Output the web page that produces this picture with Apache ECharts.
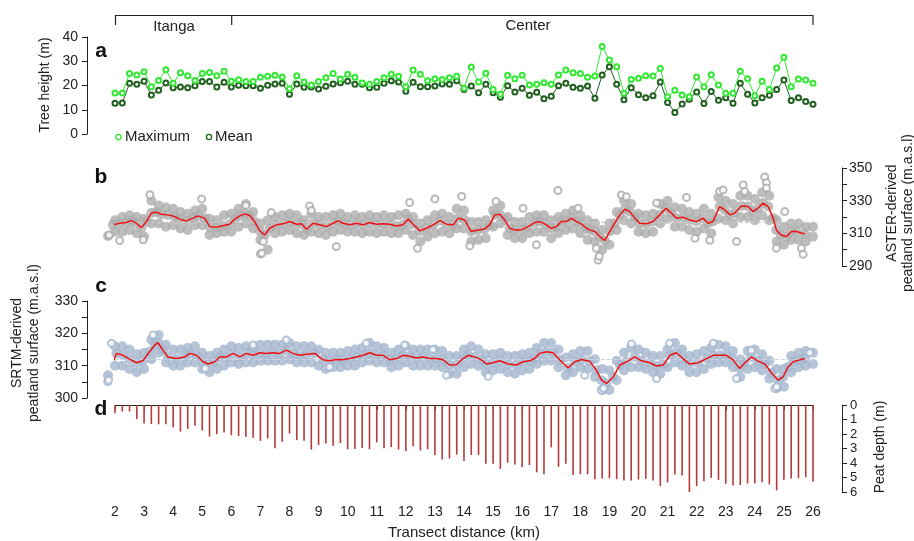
<!DOCTYPE html>
<html>
<head>
<meta charset="utf-8" />
<title>Transect</title>
<style>
  html, body, #chart { width: 914px; height: 541px; margin: 0; overflow: hidden; background: #fff; }
</style>
</head>
<body>
<div id="chart"></div>
<script src="https://cdn.jsdelivr.net/npm/echarts@6/dist/echarts.min.js"></script>
<script>
// sample positions along the transect (km)
var dist = [2,2.25,2.5,2.75,3,3.25,3.5,3.75,4,4.25,4.5,4.75,5,5.25,5.5,5.75,6,6.25,6.5,6.75,7,7.25,7.5,7.75,8,8.25,8.5,8.75,9,9.25,9.5,9.75,10,10.25,10.5,10.75,11,11.25,11.5,11.75,12,12.25,12.5,12.75,13,13.25,13.5,13.75,14,14.25,14.5,14.75,15,15.25,15.5,15.75,16,16.25,16.5,16.75,17,17.25,17.5,17.75,18,18.25,18.5,18.75,19,19.25,19.5,19.75,20,20.25,20.5,20.75,21,21.25,21.5,21.75,22,22.25,22.5,22.75,23,23.25,23.5,23.75,24,24.25,24.5,24.75,25,25.25,25.5,25.75,26];

// a: tree height (m)
var treeMax = [16.9,16.9,25.0,24.3,25.7,19.5,22.1,26.5,20.9,25.3,24.0,22.1,25.0,25.4,24.0,25.9,21.8,22.4,21.6,21.6,23.4,23.8,24.2,23.5,18.7,24.0,21.4,20.2,21.7,23.2,25.0,22.7,24.6,23.4,21.0,20.5,21.7,23.2,24.6,23.8,19.5,26.4,24.6,22.0,22.8,22.5,23.2,23.8,18.9,27.6,21.4,25.1,18.4,16.4,24.2,22.8,24.2,20.2,20.5,21.1,20.5,24.3,26.4,25.3,25.0,23.4,23.9,36.1,30.5,27.7,16.8,22.5,23.0,24.0,23.9,27.0,15.4,18.0,16.1,15.4,23.5,19.5,24.4,20.2,16.8,16.8,25.9,22.8,15.8,21.8,18.4,27.2,31.6,19.5,22.7,22.3,20.9];
var treeMean = [12.7,12.8,20.9,20.5,21.8,16.1,18.0,21.0,19.1,19.4,19.1,19.9,21.7,21.7,19.4,21.3,19.4,20.1,19.9,19.9,18.9,20.1,20.6,20.9,16.4,20.6,19.3,19.4,18.6,19.7,20.6,21.1,21.8,20.5,20.5,19.1,19.3,20.9,22.0,21.4,17.6,21.3,19.5,19.5,19.8,20.6,20.5,22.0,18.4,19.8,17.0,20.5,17.0,15.2,19.9,17.3,18.9,16.0,17.2,14.5,15.6,19.9,20.9,19.3,18.9,19.8,14.7,24.3,27.7,20.5,14.1,19.1,16.2,14.9,15.8,21.4,13.0,8.9,12.4,14.3,17.3,12.6,17.5,13.9,14.9,12.7,20.9,16.4,12.8,14.9,16.0,18.3,22.3,13.8,14.9,13.4,12.3];

// b: ASTER surface (m a.s.l.)
var bUpper = [318,320,321,320, 319,330,327,326, 325,323,322,324, 325,319,318,321, 322,325,328,323, 316,318,320,321, 322,321,318,322, 320,320,321,322, 320,321,320,321, 320,321,320,321, 322,320,316,318, 321,322,320,325, 324,317,317,318, 324,327,320,317, 317,320,321,321, 318,320,322,324, 321,318,316,312, 316,323,330,328, 322,321,322,328, 330,326,325,323, 322,325,322,332, 330,328,333,333, 331,335,333,318, 314,316,316,314, 314];
var bLower = [311,311,312,310, 308,316,316,314, 315,313,312,315, 315,309,310,311, 311,314,316,313, 306,300,310,311, 312,310,309,311, 310,309,311,312, 311,311,310,311, 310,311,310,310, 312,309,305,308, 310,311,310,313, 313,305,306,307, 314,316,309,307, 307,310,311,311, 307,310,312,313, 310,306,305,300, 303,312,318,316, 311,310,311,316, 319,314,314,312, 311,313,310,319, 318,316,320,320, 318,321,318,305, 303,306,306,305, 308];
var bRed = [[1.76,308.4],[1.93,315.2],[2.16,316.2],[2.39,316.6],[2.56,317.8],[2.73,316.2],[2.91,313.5],[3.08,317.2],[3.25,322.4],[3.42,323.0],[3.59,321.7],[3.82,321.3],[4.05,320.3],[4.22,318.7],[4.45,317.6],[4.68,319.3],[4.85,320.7],[5.08,319.3],[5.26,314.1],[5.49,313.8],[5.71,314.7],[5.94,315.6],[6.12,318.7],[6.29,320.7],[6.46,321.9],[6.63,320.9],[6.80,317.2],[6.98,311.5],[7.15,309.0],[7.32,313.1],[7.55,315.2],[7.78,315.8],[8.01,317.2],[8.24,315.6],[8.41,315.8],[8.58,312.5],[8.81,316.2],[9.04,315.2],[9.27,314.1],[9.50,316.2],[9.67,317.6],[9.84,316.2],[10.07,315.2],[10.30,316.2],[10.53,315.2],[10.76,316.6],[10.99,315.6],[11.22,315.8],[11.45,315.6],[11.68,314.5],[11.90,315.2],[12.08,318.7],[12.25,315.6],[12.48,311.5],[12.71,313.1],[12.94,315.2],[13.17,317.8],[13.40,315.6],[13.63,315.2],[13.80,319.3],[14.02,318.2],[14.25,311.1],[14.48,312.1],[14.71,312.7],[14.88,315.2],[15.06,321.3],[15.23,321.7],[15.4,318.2],[15.57,313.1],[15.74,312.1],[15.97,312.1],[16.2,314.1],[16.43,316.6],[16.6,317.2],[16.78,315.8],[17.0,313.1],[17.18,314.1],[17.35,317.2],[17.52,317.2],[17.7,319.3],[17.87,317.2],[18.04,315.6],[18.21,313.1],[18.32,312.1],[18.5,311.1],[18.67,308.0],[18.84,305.6],[19.01,311.1],[19.18,316.2],[19.36,321.3],[19.53,324.8],[19.7,323.3],[19.87,319.3],[20.04,316.2],[20.27,315.8],[20.5,317.2],[20.73,321.3],[20.94,325.4],[21.13,322.4],[21.3,319.3],[21.53,319.9],[21.76,318.2],[21.99,317.2],[22.22,319.3],[22.39,316.2],[22.56,317.2],[22.79,326.4],[22.97,324.3],[23.14,321.3],[23.31,322.4],[23.54,326.8],[23.77,326.4],[23.94,323.3],[24.11,325.4],[24.28,328.5],[24.46,326.4],[24.63,319.3],[24.74,312.1],[24.9,309.0],[25.09,308.0],[25.26,311.1],[25.43,311.1],[25.72,309.6]];
var bRings = [[1.8,309],[2.16,305.6],[2.97,306],[3.2,333.6],[4.98,331],[6.5,327],[7.0,297.4],[7.05,297.8],[7.1,305],[7.37,322.7],[8.69,326.8],[8.75,324],[9.61,301.9],[12.13,328.9],[12.4,300.9],[13.0,331],[13.92,332.6],[14.2,302.3],[15.1,329.5],[16.03,325.4],[16.49,303],[17.23,336.2],[17.92,325.4],[18.55,300.9],[18.61,293.7],[18.65,296],[19.41,333.4],[19.58,332.4],[20.62,328.5],[21.65,332],[21.94,307],[22.45,305.8],[22.79,335.6],[22.91,336.6],[23.37,305],[23.6,339.6],[23.65,335.6],[24.34,344.5],[24.4,340.9],[24.4,337.8],[24.74,300.9],[25.03,323.3],[25.6,300.9],[25.66,297.2]];
var bMean = 316.5;

// c: SRTM surface (m a.s.l.)
var cUpper = [316,316,315,313.5, 314,318,319.5,316.5, 315,315,315.5,316, 314,313,314,315, 316,315.5,316,315.5, 316.5,316.5,316.5,316.5, 317,316,316,316, 315,314,314,314, 314.5,315,315.5,317, 316,315.5,314,315, 316,315,315,315, 315,314.5,313,313, 315,316,315,313.5, 313.5,314,313,313, 313.5,314,315.5,317, 317,315,312.5,313.5, 314.5,314.5,312,309, 308.5,311.5,314,315.5, 315,314,313,313, 315,317,315,313, 313.5,314.5,315.5,316.5, 316,314.5,312,314.5, 315,313.5,311.5,309, 309,313,314,314.5, 314];
var cLower = [310,310,309,308, 309,312,314,311, 310,310,311,311, 309,308,309,310, 311,310.5,311,311, 311.5,311.5,311.5,311.5, 312,311,311,311, 310,309,309.5,309.5, 310,310,311,311.5, 311,311,309.5,310, 311,310,310,310, 310,309.5,307.5,307.5, 309.5,310.5,310,308, 308.5,309,308,307.5, 308.5,309,310.5,311.5, 311.5,309.5,307,308, 309.5,309,306.5,302.5, 302.5,305.5,308.5,309.5, 309.5,309,308,307.5, 309.5,311,310,308, 308,309,310.5,311, 311,309.5,306.5,309, 309.5,308.5,306,303, 303.5,308,309.5,310, 310.5];
var cRed = [[1.76,307.0],[2.05,313.8],[2.28,313.2],[2.5,312.0],[2.74,310.9],[2.96,311.5],[3.19,314.3],[3.37,316.4],[3.48,317.1],[3.65,314.8],[3.82,312.7],[4.11,312.2],[4.4,312.7],[4.57,313.8],[4.8,313.2],[5.03,311.2],[5.2,310.5],[5.43,311.2],[5.6,312.7],[5.83,312.7],[6.06,313.8],[6.29,312.7],[6.52,313.8],[6.75,313.2],[6.98,314.0],[7.2,313.8],[7.43,314.0],[7.66,313.8],[7.89,314.8],[8.12,313.8],[8.35,313.2],[8.58,313.5],[8.87,313.8],[9.15,311.8],[9.38,311.5],[9.61,311.9],[9.84,311.8],[10.07,312.2],[10.3,312.7],[10.53,313.2],[10.76,314.0],[10.99,313.2],[11.22,313.2],[11.45,311.8],[11.68,312.2],[11.9,313.2],[12.13,312.9],[12.36,312.4],[12.59,312.7],[12.82,312.2],[13.05,312.2],[13.28,311.8],[13.51,310.2],[13.74,310.3],[13.97,312.2],[14.14,313.2],[14.37,312.7],[14.6,311.8],[14.77,310.5],[15.0,310.9],[15.23,311.5],[15.52,310.5],[15.8,310.2],[16.03,311.2],[16.26,311.5],[16.43,312.2],[16.6,313.8],[16.83,314.3],[17.06,314.0],[17.29,311.8],[17.58,309.3],[17.81,311.2],[18.04,311.9],[18.32,311.4],[18.55,308.6],[18.73,305.5],[18.9,304.5],[19.13,306.5],[19.36,310.2],[19.59,311.2],[19.87,312.7],[20.1,311.5],[20.39,310.9],[20.62,309.9],[20.85,310.2],[21.08,313.2],[21.3,314.0],[21.53,312.2],[21.76,310.5],[22.05,310.9],[22.34,312.2],[22.57,313.2],[22.8,313.2],[23.02,313.2],[23.25,311.8],[23.48,309.1],[23.65,310.8],[23.88,312.7],[24.11,311.4],[24.34,310.5],[24.57,307.8],[24.8,305.5],[24.97,306.5],[25.14,309.6],[25.32,311.2],[25.55,311.8],[25.72,312.2]];
var cRings = [[1.75,305],[1.78,305.6],[1.88,316.9],[3.31,319.5],[5.1,309.1],[6.75,316.4],[7.89,317.9],[9.38,309.6],[10.64,316.9],[11.96,316.4],[12.93,315],[13.4,307],[14.83,306.7],[18.15,307],[18.73,302.4],[18.8,303],[19.76,316.7],[20.62,306],[21.07,316.9],[22.57,316.9],[23.37,306],[23.88,314.8],[24.69,302.9],[24.75,303.5],[25.89,314]];
var cMean = 312;

// d: peat depth (m)
var peatDepth = [0.57,0.45,0.45,0.97,1.27,1.31,1.33,1.33,1.54,1.83,1.65,1.43,1.76,2.17,2.01,1.90,2.08,2.13,2.19,2.26,2.47,2.31,2.99,2.53,1.97,2.42,2.47,3.08,2.76,2.65,2.81,2.62,3.05,3.03,2.96,3.05,2.58,2.99,2.90,3.08,3.17,2.85,3.14,3.05,3.44,3.76,3.69,3.42,3.87,3.44,3.44,4.05,4.05,4.41,3.98,4.10,4.28,4.14,4.64,4.78,2.92,4.26,4.05,4.82,4.78,4.78,5.12,5.07,5.05,5.12,5.21,5.21,5.14,5.09,5.21,5.59,5.34,4.80,4.87,6.00,5.59,5.25,5.03,5.16,5.43,5.55,5.52,5.41,5.39,5.32,5.48,5.89,5.16,5.07,5.05,4.98,5.30];

var sites = ['Itanga', 'Center'];

var font = "'Liberation Sans', Arial, Helvetica, sans-serif";
var ink = '#222';

function pairs(xs, ys) {
  return xs.map(function (x, i) { return [x, ys[i]]; });
}

var chart = echarts.init(document.getElementById('chart'));

function hiddenX(i) {
  return { type: 'value', gridIndex: i, min: 2, max: 26, show: false };
}
function axisBase(extra) {
  var base = {
    type: 'value',
    axisLine: { show: true, lineStyle: { color: ink, width: 1 } },
    axisTick: { show: true, length: 5, lineStyle: { color: ink } },
    splitLine: { show: false },
    axisLabel: { color: ink, fontSize: 14, fontFamily: font }
  };
  for (var k in extra) base[k] = extra[k];
  return base;
}

var option = {
  animation: false,
  backgroundColor: '#fff',
  textStyle: { fontFamily: font },
  grid: [
    { left: 115, right: 101, top: 37, height: 97 },
    { left: 115, right: 101, top: 168, height: 98 },
    { left: 115, right: 101, top: 301, height: 97 },
    { left: 115, right: 101, top: 405, height: 88 }
  ],
  xAxis: [
    hiddenX(0), hiddenX(1), hiddenX(2),
    axisBase({
      gridIndex: 3, min: 2, max: 26, interval: 1, position: 'bottom', offset: 5,
      axisLabel: { color: ink, fontSize: 14, fontFamily: font, margin: 8 },
      name: 'Transect distance (km)', nameLocation: 'middle', nameGap: 28,
      nameTextStyle: { color: ink, fontSize: 15, fontFamily: font }
    })
  ],
  yAxis: [
    axisBase({ gridIndex: 0, min: 0, max: 40, interval: 10, position: 'left', offset: 28,
      axisLabel: { color: ink, fontSize: 14, fontFamily: font, margin: 9 } }),
    axisBase({ gridIndex: 1, min: 290, max: 350, interval: 10, position: 'right', offset: 29,
      axisLabel: { color: ink, fontSize: 14, fontFamily: font, margin: 7,
        formatter: function (v) { return v % 20 === 10 ? v : ''; } } }),
    axisBase({ gridIndex: 2, min: 300, max: 330, interval: 5, position: 'left', offset: 28,
      axisLabel: { color: ink, fontSize: 14, fontFamily: font, margin: 9,
        formatter: function (v) { return v % 10 === 0 ? v : ''; } } }),
    axisBase({ gridIndex: 3, min: 0, max: 6, interval: 1, position: 'right', offset: 29, inverse: true,
      axisLabel: { color: ink, fontSize: 13, fontFamily: font, margin: 8 } })
  ],
  series: [
    {
      name: 'Maximum', type: 'line', xAxisIndex: 0, yAxisIndex: 0,
      data: pairs(dist, treeMax), symbol: 'emptyCircle', symbolSize: 5,
      lineStyle: { color: '#33e833', width: 1 },
      itemStyle: { color: '#33e833', borderWidth: 1.2 }, z: 3
    },
    {
      name: 'Mean', type: 'line', xAxisIndex: 0, yAxisIndex: 0,
      data: pairs(dist, treeMean), symbol: 'emptyCircle', symbolSize: 5,
      lineStyle: { color: '#1f601f', width: 1 },
      itemStyle: { color: '#1f601f', borderWidth: 1.2 }, z: 2
    },
    {
      type: 'scatter', xAxisIndex: 1, yAxisIndex: 1, clip: false,
      data: pairs(dist, bUpper).concat(pairs(dist, bLower), bRed),
      symbol: 'circle', symbolSize: 10, itemStyle: { color: '#adadad' },
      markLine: { silent: true, symbol: 'none', label: { show: false },
        lineStyle: { color: '#c8c8c8', type: 'dashed', width: 1 }, data: [{ yAxis: bMean }] }
    },
    {
      type: 'scatter', xAxisIndex: 1, yAxisIndex: 1, clip: false,
      data: bRings, symbol: 'emptyCircle', symbolSize: 7,
      itemStyle: { color: '#a8a8a8', borderWidth: 1.5 }
    },
    {
      type: 'line', xAxisIndex: 1, yAxisIndex: 1, clip: false, data: bRed,
      showSymbol: false, lineStyle: { color: '#ee1111', width: 1.5 }, z: 5
    },
    {
      type: 'scatter', xAxisIndex: 2, yAxisIndex: 2, clip: false,
      data: pairs(dist, cUpper).concat(pairs(dist, cLower), cRed),
      symbol: 'circle', symbolSize: 10, itemStyle: { color: '#a4b5cd' },
      markLine: { silent: true, symbol: 'none', label: { show: false },
        lineStyle: { color: '#c8d3e4', type: 'dashed', width: 1 }, data: [{ yAxis: cMean }] }
    },
    {
      type: 'scatter', xAxisIndex: 2, yAxisIndex: 2, clip: false,
      data: cRings, symbol: 'emptyCircle', symbolSize: 7,
      itemStyle: { color: '#a4b5cd', borderWidth: 1.5 }
    },
    {
      type: 'line', xAxisIndex: 2, yAxisIndex: 2, clip: false, data: cRed,
      showSymbol: false, lineStyle: { color: '#ee1111', width: 1.5 }, z: 5
    },
    {
      type: 'bar', xAxisIndex: 3, yAxisIndex: 3, data: pairs(dist, peatDepth),
      barWidth: 1.6, itemStyle: { color: '#b63a3c' }
    }
  ],
  graphic: [
    // site bracket along the top
    { type: 'polyline', shape: { points: [[115.5, 25], [115.5, 15.5], [813, 15.5], [813, 25]] },
      style: { stroke: ink, lineWidth: 1.2, fill: null } },
    { type: 'line', shape: { x1: 231.7, y1: 15.5, x2: 231.7, y2: 25 }, style: { stroke: ink, lineWidth: 1.2 } },
    { type: 'text', x: 174, y: 27, style: { text: sites[0], font: '15px ' + font, fill: ink, align: 'center', verticalAlign: 'middle' } },
    { type: 'text', x: 528, y: 26, style: { text: sites[1], font: '15px ' + font, fill: ink, align: 'center', verticalAlign: 'middle' } },
    // panel letters
    { type: 'text', x: 101, y: 51, style: { text: 'a', font: 'bold 21px ' + font, fill: '#111', align: 'center', verticalAlign: 'middle' } },
    { type: 'text', x: 101, y: 177, style: { text: 'b', font: 'bold 21px ' + font, fill: '#111', align: 'center', verticalAlign: 'middle' } },
    { type: 'text', x: 101, y: 286, style: { text: 'c', font: 'bold 21px ' + font, fill: '#111', align: 'center', verticalAlign: 'middle' } },
    { type: 'text', x: 101, y: 409, style: { text: 'd', font: 'bold 21px ' + font, fill: '#111', align: 'center', verticalAlign: 'middle' } },
    // legend of panel a
    { type: 'circle', shape: { cx: 118.5, cy: 137, r: 2.6 }, style: { stroke: '#33e833', lineWidth: 1.3, fill: '#fff' } },
    { type: 'text', x: 125, y: 137, style: { text: 'Maximum', font: '15px ' + font, fill: ink, verticalAlign: 'middle' } },
    { type: 'circle', shape: { cx: 209, cy: 137, r: 2.6 }, style: { stroke: '#1f601f', lineWidth: 1.3, fill: '#fff' } },
    { type: 'text', x: 215, y: 137, style: { text: 'Mean', font: '15px ' + font, fill: ink, verticalAlign: 'middle' } },
    // axis titles
    { type: 'text', x: 45, y: 85, rotation: Math.PI / 2, style: { text: 'Tree height (m)', font: '14px ' + font, fill: ink, align: 'center', verticalAlign: 'middle' } },
    { type: 'text', x: 900, y: 213, rotation: Math.PI / 2, style: { text: 'ASTER-derived\npeatland surface (m.a.s.l)', font: '14px ' + font, lineHeight: 16, fill: ink, align: 'center', verticalAlign: 'middle' } },
    { type: 'text', x: 26, y: 343, rotation: Math.PI / 2, style: { text: 'SRTM-derived\npeatland surface (m.a.s.l)', font: '14px ' + font, lineHeight: 17, fill: ink, align: 'center', verticalAlign: 'middle' } },
    { type: 'text', x: 880, y: 447, rotation: Math.PI / 2, style: { text: 'Peat depth (m)', font: '14px ' + font, fill: ink, align: 'center', verticalAlign: 'middle' } }
  ]
};

chart.setOption(option);
</script>
</body>
</html>
